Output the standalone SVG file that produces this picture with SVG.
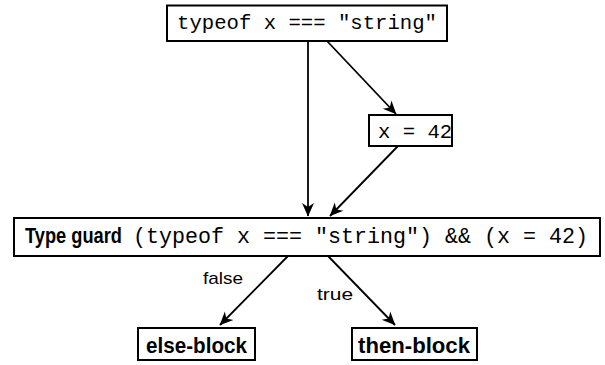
<svg xmlns="http://www.w3.org/2000/svg" width="605" height="365" viewBox="0 0 605 365">
  <style>
    .box { fill: #fff; stroke: #000; stroke-width: 2; }
    .mono { font-family: "Liberation Mono", "DejaVu Sans Mono", monospace; fill: #000; }
    .sans { font-family: "Liberation Sans", "DejaVu Sans", sans-serif; fill: #000; }
    .bold { font-weight: bold; }
    .edge { stroke: #000; stroke-width: 1.8; fill: none; marker-end: url(#head); }
  </style>
  <defs>
    <marker id="head" markerUnits="userSpaceOnUse" markerWidth="16" markerHeight="16" viewBox="-15 -8 16 16" refX="0" refY="0" orient="auto">
      <path d="M0.5,0 L-13,-6 L-9,0 L-13,6 Z" fill="#000"/>
    </marker>
  </defs>

  <g id="connectors">
    <line class="edge" x1="308" y1="41" x2="308" y2="216"/>
    <line class="edge" x1="327" y1="41" x2="396" y2="114"/>
    <line class="edge" x1="398" y1="146" x2="330" y2="216"/>
    <line class="edge" x1="288" y1="256" x2="220" y2="325"/>
    <line class="edge" x1="328" y1="256" x2="395" y2="325"/>
    <text class="sans" x="203" y="284" font-size="17" textLength="40" lengthAdjust="spacingAndGlyphs">false</text>
    <text class="sans" x="317" y="300" font-size="17" textLength="36" lengthAdjust="spacingAndGlyphs">true</text>
  </g>

  <g id="test">
    <rect class="box" x="167" y="5.5" width="280" height="35.5"/>
    <text class="mono" x="177" y="29" font-size="20.6" textLength="260" lengthAdjust="spacingAndGlyphs">typeof x === "string"</text>
  </g>

  <g id="assign">
    <rect class="box" x="369" y="115" width="83" height="31"/>
    <text class="mono" x="378" y="138" font-size="20.6">x = 42</text>
  </g>

  <g id="guard">
    <rect class="box" x="14" y="218" width="586" height="38"/>
    <text class="sans bold" x="25" y="243" font-size="22.5" textLength="97" lengthAdjust="spacingAndGlyphs">Type guard</text>
    <text class="mono" x="133" y="243" font-size="21.5" textLength="455" lengthAdjust="spacingAndGlyphs">(typeof x === "string") &amp;&amp; (x = 42)</text>
  </g>

  <g id="else-block">
    <rect class="box" x="138" y="328" width="117" height="32"/>
    <text class="sans bold" x="146" y="353" font-size="21.5" textLength="101" lengthAdjust="spacingAndGlyphs">else-block</text>
  </g>

  <g id="then-block">
    <rect class="box" x="352" y="328" width="125" height="32"/>
    <text class="sans bold" x="358" y="353" font-size="21.5" textLength="112" lengthAdjust="spacingAndGlyphs">then-block</text>
  </g>
</svg>
